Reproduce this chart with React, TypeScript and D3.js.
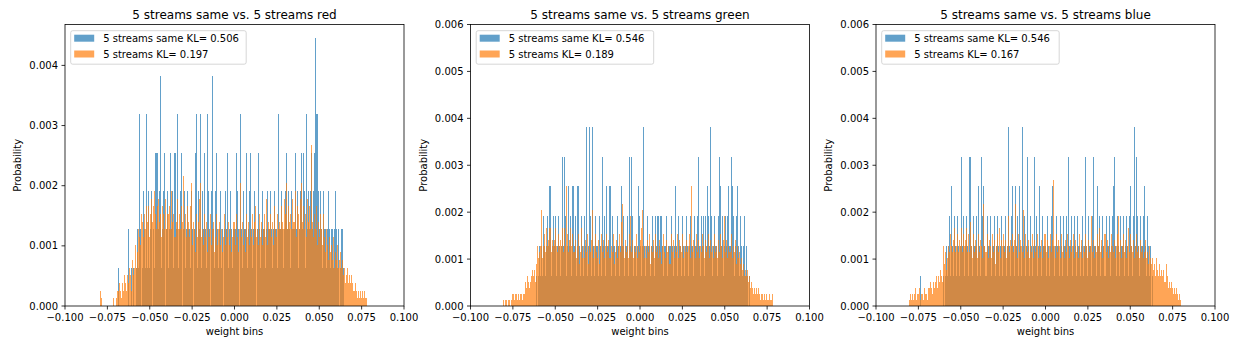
import React from "react";
import * as d3 from "d3";

// ---------- data ----------
const BIN_START = -0.081;
const BIN_WIDTH = 0.0006;
const SAME_UNIT = 0.000637; // probability of one count, "same" series
const STREAMS_UNIT = 0.0001274; // probability of one count, "streams" series

const titles = [
  "5 streams same vs. 5 streams red",
  "5 streams same vs. 5 streams green",
  "5 streams same vs. 5 streams blue",
];
const sameLabels = [
  "5 streams same KL= 0.506",
  "5 streams same KL= 0.546",
  "5 streams same KL= 0.546",
];
const streamLabels = [
  "5 streams KL= 0.197",
  "5 streams KL= 0.189",
  "5 streams KL= 0.167",
];
const yMaxes = [0.00468, 0.006, 0.006];
const yTicks1 = [0, 0.001, 0.002, 0.003, 0.004];
const yTicks23 = [0, 0.001, 0.002, 0.003, 0.004, 0.005, 0.006];
const xTicks = [-0.1, -0.075, -0.05, -0.025, 0, 0.025, 0.05, 0.075, 0.1];

// counts per bin (270 bins of 0.0006 from -0.081)
const redSame = [
  0,0,0,0,0,0,0,0,0,0,
  0,0,0,0,0,0,0,0,0,0,
  1,0,0,0,0,0,0,0,0,0,
  2,0,0,1,0,1,0,0,1,2,
  1,5,2,0,1,3,2,1,5,1,
  3,1,2,3,0,2,1,4,4,4,
  2,3,6,1,2,3,4,0,2,3,
  1,2,4,2,3,1,4,2,5,1,
  2,3,4,0,2,3,1,2,3,2,
  2,1,3,2,0,2,4,5,1,3,
  2,5,1,3,2,4,2,1,5,3,
  2,0,3,6,2,1,3,4,2,1,
  2,3,1,2,0,2,3,2,4,1,
  2,3,2,1,2,2,4,3,2,0,
  5,2,1,3,2,2,4,1,2,3,
  4,2,1,2,3,2,0,2,4,2,
  1,2,3,2,2,1,2,3,2,2,
  3,2,1,2,3,2,2,1,5,2,
  2,3,2,1,2,3,4,2,3,2,
  1,3,2,2,4,2,3,1,2,3,
  4,2,4,3,1,5,2,3,2,3,
  4,2,3,4,7,5,5,3,2,3,
  2,1,3,2,2,1,2,3,2,1,
  2,2,1,2,3,2,1,2,0,1,
  2,2,1,0,0,0,0,0,0,0,
  0,0,0,0,0,0,0,0,0,0,
  0,0,0,0,0,0,0,0,0,0,
];
const redStreams = [
  0,0,0,2,1,0,0,0,0,0,
  0,0,0,0,0,0,1,0,1,2,
  2,3,2,1,3,2,4,3,2,4,
  3,5,4,2,6,4,5,8,5,7,
  10,9,8,12,11,9,12,10,13,11,
  13,9,12,14,11,13,15,12,10,13,
  14,11,12,9,13,12,10,14,10,12,
  12,13,10,15,11,12,9,11,14,10,
  12,10,13,11,17,10,12,9,13,11,
  9,13,16,8,11,10,7,12,9,11,
  14,16,9,10,8,12,9,11,7,10,
  9,12,8,10,11,7,9,12,8,10,
  11,8,10,7,9,12,8,10,9,11,
  8,10,7,9,11,8,12,9,7,10,
  16,9,11,8,10,7,12,9,11,8,
  10,9,12,8,11,13,9,10,8,12,
  9,11,8,10,12,9,14,8,11,10,
  12,9,11,8,13,10,9,12,10,11,
  10,13,11,10,14,12,16,10,13,11,
  12,10,14,11,15,9,13,12,10,14,
  16,11,13,10,12,9,14,11,13,10,
  21,11,9,12,10,13,8,11,9,12,
  10,8,12,9,7,10,8,6,9,7,
  8,6,9,5,7,6,8,5,6,7,
  5,6,4,5,3,4,5,3,4,3,
  4,3,2,3,2,1,2,1,2,1,
  2,1,2,1,1,0,0,0,0,0,
];
const greenSame = [
  0,0,0,0,0,0,0,0,0,0,
  0,0,0,0,0,0,0,0,0,0,
  0,0,0,0,0,0,0,0,0,0,
  0,0,0,1,0,1,2,1,2,1,
  3,2,1,2,3,2,4,1,2,3,
  2,3,1,2,3,2,1,2,5,2,
  5,3,1,2,4,2,3,1,4,4,
  2,3,1,4,4,2,1,3,2,1,
  3,2,6,1,2,6,3,1,6,2,
  1,3,2,2,1,3,2,1,5,2,
  3,1,4,2,2,4,1,3,2,2,
  1,2,3,2,1,2,4,2,3,1,
  2,2,3,1,5,2,5,3,1,2,
  2,1,2,4,3,2,1,2,6,2,
  1,2,3,2,2,1,2,3,2,1,
  3,2,3,3,2,3,3,2,1,2,
  2,3,1,2,2,3,2,1,2,4,
  2,1,3,2,2,1,3,2,1,2,
  3,2,1,2,3,2,2,1,3,2,
  2,3,5,2,1,3,2,3,1,3,
  2,4,3,2,6,3,1,2,3,2,
  2,1,3,5,4,2,3,1,2,3,
  2,3,4,2,5,4,3,1,2,3,
  4,2,1,3,2,1,2,3,1,2,
  1,0,1,0,0,0,0,0,0,0,
  0,0,0,0,0,0,0,0,0,0,
  0,0,0,0,0,0,0,0,0,0,
];
const greenStreams = [
  1,0,1,1,0,1,1,0,1,2,
  2,1,2,2,1,2,1,2,2,1,
  2,2,4,3,5,4,3,4,5,6,
  5,6,4,7,10,8,9,10,16,8,
  10,12,9,13,10,11,13,9,11,10,
  11,13,10,9,12,10,11,10,13,9,
  13,10,20,12,9,11,13,10,12,9,
  9,11,8,10,12,7,9,13,8,10,
  8,11,9,12,7,10,9,11,16,8,
  10,12,9,8,11,7,10,12,9,11,
  8,10,12,9,11,8,10,9,12,7,
  9,11,8,10,12,9,14,17,10,8,
  11,9,10,8,12,15,9,11,8,10,
  9,12,8,10,9,11,13,16,10,8,
  10,8,11,9,12,7,10,9,11,8,
  12,9,10,8,11,9,7,10,12,9,
  8,11,9,10,7,12,9,11,8,10,
  9,12,8,11,10,9,12,8,10,9,
  11,9,10,12,8,20,9,11,10,8,
  12,9,11,8,10,9,12,10,8,11,
  9,10,12,8,11,9,10,8,12,9,
  10,8,11,9,12,10,8,11,15,9,
  11,8,10,9,12,8,10,9,11,7,
  10,8,9,7,8,6,7,5,6,5,
  6,4,5,3,4,3,2,3,2,3,
  2,3,2,1,2,2,1,2,1,2,
  1,1,2,1,1,2,0,0,0,0,
];
const blueSame = [
  0,0,0,0,0,0,0,0,0,0,
  0,0,1,0,0,0,0,0,0,0,
  0,0,0,0,0,0,0,0,0,0,
  0,0,0,0,1,0,1,2,1,2,
  3,1,4,2,1,3,2,1,3,2,
  1,2,5,2,3,1,2,3,2,1,
  5,5,2,1,3,2,2,3,1,4,
  2,1,5,3,4,2,1,3,2,2,
  3,1,2,2,3,1,2,3,2,1,
  2,3,1,2,2,3,1,2,6,2,
  1,3,4,2,1,4,2,3,1,4,
  2,1,6,2,3,1,2,5,2,1,
  3,2,1,2,5,2,3,1,2,4,
  2,1,3,2,2,1,3,2,1,2,
  3,4,2,1,2,3,2,2,1,3,
  2,1,3,2,2,3,1,5,2,2,
  3,1,2,3,2,1,3,2,2,1,
  2,3,1,2,5,2,1,3,2,2,
  1,3,5,2,2,1,4,2,3,1,
  2,3,2,1,3,2,2,3,1,2,
  3,4,5,2,1,3,2,1,3,2,
  2,3,1,2,3,2,1,3,4,2,
  1,3,6,2,5,3,2,1,3,2,
  2,3,4,2,1,3,2,1,2,0,
  1,0,0,0,0,0,0,0,0,0,
  0,0,0,0,0,0,0,0,0,0,
  0,0,0,0,0,0,0,0,0,0,
];
const blueStreams = [
  0,1,2,1,2,1,2,3,1,2,
  2,3,1,2,2,1,3,2,1,3,
  3,4,3,2,4,3,4,5,3,5,
  4,6,5,4,10,7,9,6,8,10,
  9,12,10,9,11,13,9,10,12,9,
  11,10,13,9,12,10,11,13,9,12,
  9,14,10,8,12,9,11,10,8,12,
  9,11,10,8,17,10,9,12,8,11,
  10,8,12,9,11,7,10,12,9,13,
  8,11,10,12,9,11,8,10,15,9,
  11,10,12,9,11,17,10,8,12,9,
  11,10,9,16,8,12,10,9,11,8,
  10,9,12,8,11,9,10,12,8,10,
  9,11,8,10,12,9,11,8,10,12,
  9,11,21,10,8,12,9,11,10,8,
  12,9,10,8,11,9,12,10,8,11,
  9,10,12,8,11,9,10,8,12,9,
  11,8,10,9,12,10,8,11,9,10,
  15,9,11,8,10,9,12,10,13,9,
  11,8,10,12,9,11,8,10,9,12,
  10,9,11,8,10,12,15,9,11,8,
  10,12,9,11,8,10,13,9,12,10,
  9,11,8,10,12,9,10,8,11,9,
  10,8,9,11,8,9,7,10,8,7,
  8,6,7,5,8,6,5,7,5,6,
  5,6,4,7,5,3,4,3,4,3,
  2,3,2,3,2,1,2,1,0,0,
];

const sameSeries = [redSame, greenSame, blueSame];
const streamSeries = [redStreams, greenStreams, blueStreams];

// ---------- layout ----------
const W = 1234;
const H = 340;
const PANEL_LEFTS = [65, 470.5, 876];
const PANEL_W = 339;
const TOP = 24.5;
const BOTTOM = 306;
const FONT = "DejaVu Sans, sans-serif";
const BLUE = "#1f77b4";
const ORANGE = "#ff7f0e";
const ALPHA = 0.7;

const fmt = (d: number) => (d < 0 ? "\u2212" : "") + Math.abs(d).toFixed(3);

function Panel({ idx }: { idx: number }) {
  const left = PANEL_LEFTS[idx];
  const right = left + PANEL_W;
  const x = d3.scaleLinear().domain([-0.1, 0.1]).range([left, right]);
  const y = d3.scaleLinear().domain([0, yMaxes[idx]]).range([BOTTOM, TOP]);
  const yTicks = idx === 0 ? yTicks1 : yTicks23;

  const bars = (vals: number[], unit: number, color: string, key: string) =>
    vals.map((c, i) => {
      if (c <= 0) return null;
      const x0 = x(BIN_START + i * BIN_WIDTH);
      const x1 = x(BIN_START + (i + 1) * BIN_WIDTH);
      const yv = y(c * unit);
      return (
        <rect
          key={key + i}
          x={x0}
          y={yv}
          width={x1 - x0}
          height={BOTTOM - yv}
          fill={color}
          fillOpacity={ALPHA}
        />
      );
    });

  const lx = left + 5.7;
  const ly = 30.7;
  const lw = idx === 0 ? 175.5 : 177.5;
  const lh = 33.5;

  return (
    <g>
      <text
        x={(left + right) / 2}
        y={18.5}
        textAnchor="middle"
        fontSize={12}
        fontFamily={FONT}
        fill="#000"
      >
        {titles[idx]}
      </text>
      <g shapeRendering="crispEdges">{bars(sameSeries[idx], SAME_UNIT, BLUE, "s")}</g>
      <g shapeRendering="crispEdges">{bars(streamSeries[idx], STREAMS_UNIT, ORANGE, "o")}</g>
      <rect
        x={left}
        y={TOP}
        width={PANEL_W}
        height={BOTTOM - TOP}
        fill="none"
        stroke="#000"
        strokeWidth={0.8}
      />
      {xTicks.map((t) => (
        <g key={"xt" + t}>
          <line x1={x(t)} x2={x(t)} y1={BOTTOM} y2={BOTTOM + 3.5} stroke="#000" strokeWidth={0.8} />
          <text x={x(t)} y={321} textAnchor="middle" fontSize={10} fontFamily={FONT} fill="#000">
            {fmt(t)}
          </text>
        </g>
      ))}
      {yTicks.map((t) => (
        <g key={"yt" + t}>
          <line x1={left - 3.5} x2={left} y1={y(t)} y2={y(t)} stroke="#000" strokeWidth={0.8} />
          <text
            x={left - 7}
            y={y(t)}
            dy="0.35em"
            textAnchor="end"
            fontSize={10}
            fontFamily={FONT}
            fill="#000"
          >
            {t.toFixed(3)}
          </text>
        </g>
      ))}
      <text
        x={(left + right) / 2}
        y={335}
        textAnchor="middle"
        fontSize={10}
        fontFamily={FONT}
        fill="#000"
      >
        weight bins
      </text>
      <text
        transform={`translate(${left - 44},${(TOP + BOTTOM) / 2}) rotate(-90)`}
        textAnchor="middle"
        fontSize={10}
        fontFamily={FONT}
        fill="#000"
      >
        Probability
      </text>
      <g>
        <rect
          x={lx}
          y={ly}
          width={lw}
          height={lh}
          rx={2}
          fill="#fff"
          fillOpacity={0.8}
          stroke="#cccccc"
          strokeWidth={0.8}
        />
        <rect x={lx + 3.5} y={34.7} width={20} height={7} fill={BLUE} fillOpacity={ALPHA} />
        <rect x={lx + 3.5} y={50.5} width={20} height={7} fill={ORANGE} fillOpacity={ALPHA} />
        <text x={lx + 32.5} y={38.3} dy="0.35em" fontSize={10} fontFamily={FONT} fill="#000">
          {sameLabels[idx]}
        </text>
        <text x={lx + 32.5} y={54} dy="0.35em" fontSize={10} fontFamily={FONT} fill="#000">
          {streamLabels[idx]}
        </text>
      </g>
    </g>
  );
}

export default function App() {
  return (
    <svg
      width={W}
      height={H}
      viewBox={`0 0 ${W} ${H}`}
      style={{ position: "absolute", left: 0, top: 0, background: "#fff" }}
    >
      <rect x={0} y={0} width={W} height={H} fill="#fff" />
      {[0, 1, 2].map((i) => (
        <Panel key={i} idx={i} />
      ))}
    </svg>
  );
}
